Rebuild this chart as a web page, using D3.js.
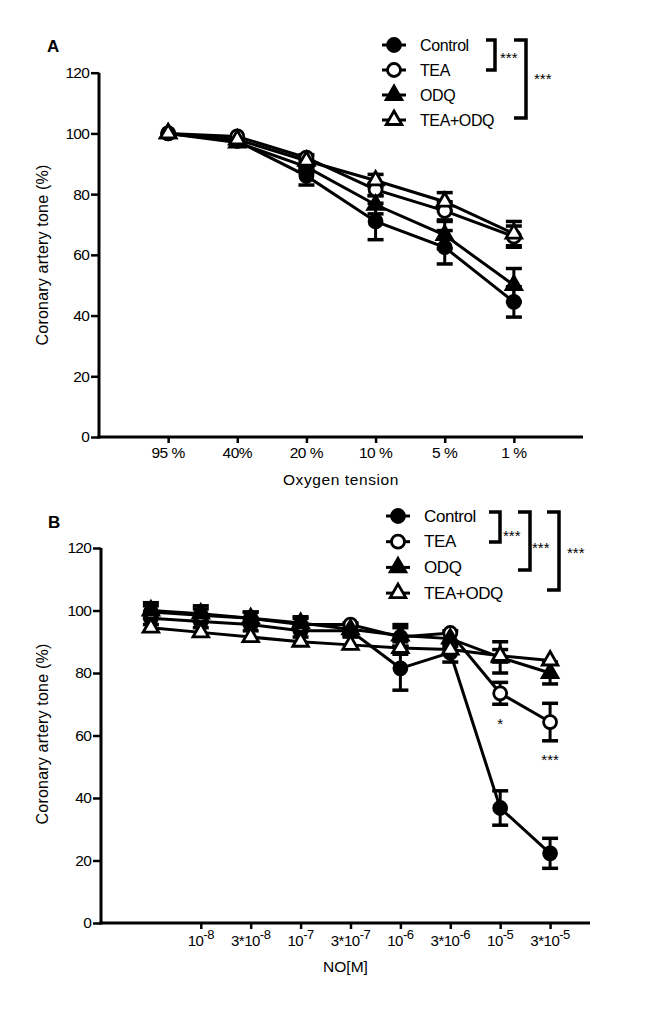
<!DOCTYPE html>
<html><head><meta charset="utf-8">
<script src="https://cdn.jsdelivr.net/npm/d3@7"></script>
<style>body{margin:0;background:#fff}svg{display:block}text{font-family:"Liberation Sans",Arial,sans-serif;fill:#000}</style>
</head><body>
<svg id="c" width="669" height="1010"></svg>
<script>
// ---------- Data: Panel A ----------
const seriesNames = ["Control", "TEA", "ODQ", "TEA+ODQ"];
const oxygenCategories = ["95 %", "40%", "20 %", "10 %", "5 %", "1 %"];
const aControl = [100, 97.5, 86, 71, 62.5, 44.5];
const aControlErr = [1, 1, 3, 6, 5.5, 5];
const aTEA = [100, 99, 92, 81.5, 74.5, 66];
const aTEAErr = [1, 1, 1.5, 2, 3, 3.5];
const aODQ = [100, 97, 89, 76.5, 66.5, 50];
const aODQErr = [1, 1, 2, 3, 4.5, 5.5];
const aTEAODQ = [100, 98, 91, 84.5, 77.5, 67];
const aTEAODQErr = [1, 1, 2, 2, 3, 4];

// ---------- Data: Panel B ----------
const noCategories = ["", "10|-8", "3*10|-8", "10|-7", "3*10|-7", "10|-6", "3*10|-6", "10|-5", "3*10|-5"];
const bControl = [97.5, 96.5, 95.5, 93.5, 93.5, 81.5, 86.5, 36.8, 22.3];
const bControlErr = [2, 2, 2, 2, 2, 7, 3, 5.5, 4.8];
const bTEA = [99.5, 98.5, 97.5, 95.5, 95.5, 91.5, 92.8, 73.5, 64.3];
const bTEAErr = [2, 2, 2, 2, 1.5, 3, 1.5, 3.5, 6];
const bODQ = [100, 99, 97.5, 96, 94, 92, 91, 85, 80];
const bODQErr = [2.5, 2.5, 2, 2, 2, 3.5, 2.5, 5, 3.5];
const bTEAODQ = [94.5, 93, 91.5, 90, 89, 88, 87.5, 85.5, 84];
const bTEAODQErr = [1.5, 1.5, 1.5, 1.5, 1.5, 2, 1.5, 2, 1.5];

const yTicks = [0, 20, 40, 60, 80, 100, 120];

const markerTypes = ["circleFilled", "circleOpen", "triFilled", "triOpen"];

const svg = d3.select("#c");

function drawMarker(g, type, x, y) {
  const filled = type.endsWith("Filled");
  if (type.startsWith("circle")) {
    g.append("circle").attr("cx", x).attr("cy", y).attr("r", 6.5)
      .attr("fill", filled ? "#000" : "#fff").attr("stroke", "#000").attr("stroke-width", 2.8);
  } else {
    g.append("path").attr("d", d3.symbol(d3.symbolTriangle, 105)())
      .attr("transform", `translate(${x},${y})`)
      .attr("fill", filled ? "#000" : "#fff").attr("stroke", "#000").attr("stroke-width", 2.8)
      .attr("stroke-linejoin", "miter");
  }
}

function drawPanel(cfg) {
  const g = svg.append("g");
  const x = d3.scaleLinear().domain(cfg.xDomain).range([cfg.left, cfg.right]);
  const y = d3.scaleLinear().domain([0, 120]).range([cfg.bottom, cfg.top]);

  // axes
  const yAxis = d3.axisLeft(y).tickValues(yTicks).tickSize(8).tickPadding(2);
  const ya = g.append("g").attr("transform", `translate(${cfg.left},0)`).call(yAxis);
  ya.select(".domain").attr("stroke-width", 3).attr("d", `M0,${cfg.top}V${cfg.bottom + 1.5}`);
  ya.selectAll(".tick line").attr("stroke-width", 2.5);
  ya.selectAll(".tick text").attr("font-size", 15.5).style("font-family", '"Liberation Sans",Arial,sans-serif').attr("letter-spacing", -0.8);

  const xa = g.append("g").attr("transform", `translate(0,${cfg.bottom})`)
    .call(d3.axisBottom(x).tickValues(cfg.tickIdx).tickSize(6).tickFormat(() => ""));
  xa.select(".domain").attr("stroke-width", 3).attr("d", `M${cfg.left - 1.5},0H${cfg.right}`);
  xa.selectAll(".tick line").attr("stroke-width", 2.5);

  // tick labels
  cfg.tickIdx.forEach(i => {
    const lab = cfg.categories[i - 1];
    const parts = lab.split("|");
    const t = g.append("text").attr("x", x(i) + (cfg.labelDx || 0)).attr("y", cfg.labelY)
      .attr("text-anchor", "middle").attr("font-size", cfg.tickFont).attr("letter-spacing", -0.5);
    t.append("tspan").text(parts[0]);
    if (parts[1]) t.append("tspan").attr("dy", -7).attr("font-size", cfg.tickFont - 2).text(parts[1]);
  });

  // axis titles
  g.append("text").attr("x", (cfg.left + cfg.right) / 2).attr("y", cfg.xTitleY)
    .attr("text-anchor", "middle").attr("font-size", 15.5).attr("letter-spacing", cfg.xTitleLS || 0).text(cfg.xTitle);
  g.append("text").attr("transform", `translate(${cfg.yTitleX},${cfg.yTitleY}) rotate(-90)`)
    .attr("text-anchor", "middle").attr("font-size", 16).attr("letter-spacing", 0.2).text("Coronary artery tone (%)");

  // panel label
  g.append("text").attr("x", cfg.labelX).attr("y", cfg.labelYp).attr("font-size", 17)
    .attr("font-weight", "bold").text(cfg.panel);

  // lines
  const line = d3.line().x((d, i) => x(i + 1)).y(d => y(d));
  cfg.series.forEach(s => {
    g.append("path").attr("d", line(s.vals)).attr("fill", "none")
      .attr("stroke", "#000").attr("stroke-width", 3);
  });
  // error bars
  cfg.series.forEach(s => {
    s.vals.forEach((v, i) => {
      const e = s.errs[i];
      const cx = x(i + 1);
      g.append("line").attr("x1", cx).attr("x2", cx).attr("y1", y(v - e)).attr("y2", y(v + e))
        .attr("stroke", "#000").attr("stroke-width", 3);
      if (e > 1.6) {
        [v - e, v + e].forEach(ev => {
          g.append("line").attr("x1", cx - 8).attr("x2", cx + 8).attr("y1", y(ev)).attr("y2", y(ev))
            .attr("stroke", "#000").attr("stroke-width", 3.5);
        });
      }
    });
  });
  // markers
  cfg.series.forEach(s => {
    s.vals.forEach((v, i) => drawMarker(g, s.type, x(i + 1), y(v)));
  });

  // legend
  const L = cfg.legend;
  seriesNames.forEach((name, i) => {
    const ly = L.y0 + i * L.dy;
    g.append("line").attr("x1", L.x - 12).attr("x2", L.x + 12).attr("y1", ly).attr("y2", ly)
      .attr("stroke", "#000").attr("stroke-width", 3);
    drawMarker(g, markerTypes[i], L.x, ly);
    g.append("text").attr("x", L.tx).attr("y", ly + 5.5).attr("font-size", L.font)
      .attr("letter-spacing", -0.4).text(name);
  });
  // brackets
  cfg.brackets.forEach(b => {
    g.append("path").attr("d", `M${b.x0},${b.y0}H${b.x1}V${b.y1}H${b.x0}`)
      .attr("fill", "none").attr("stroke", "#000").attr("stroke-width", 3.5);
    g.append("text").attr("x", b.sx).attr("y", b.sy).attr("font-size", 15).text("***");
  });
  (cfg.stars || []).forEach(s => {
    g.append("text").attr("x", x(s.i)).attr("y", s.y).attr("text-anchor", "middle")
      .attr("font-size", 15).text(s.t);
  });
}

drawPanel({
  panel: "A", labelX: 47, labelYp: 52,
  left: 99, right: 583, top: 72.7, bottom: 437, xDomain: [0, 7],
  categories: oxygenCategories, tickIdx: [1, 2, 3, 4, 5, 6], labelY: 458, tickFont: 15.5,
  xTitle: "Oxygen tension", xTitleY: 485, xTitleLS: 0.6,
  yTitleX: 48, yTitleY: 255,
  series: [
    {vals: aControl, errs: aControlErr, type: "circleFilled"},
    {vals: aTEA, errs: aTEAErr, type: "circleOpen"},
    {vals: aODQ, errs: aODQErr, type: "triFilled"},
    {vals: aTEAODQ, errs: aTEAODQErr, type: "triOpen"}
  ],
  legend: {x: 394, tx: 420, y0: 45, dy: 25, font: 16},
  brackets: [
    {x0: 486, x1: 495, y0: 40, y1: 70, sx: 500, sy: 63},
    {x0: 514, x1: 526, y0: 40, y1: 118, sx: 534, sy: 84}
  ]
});

drawPanel({
  panel: "B", labelX: 48, labelYp: 528,
  left: 101, right: 590, top: 548, bottom: 923, xDomain: [0, 9.8],
  categories: noCategories, tickIdx: [2, 3, 4, 5, 6, 7, 8, 9], labelY: 946, tickFont: 15, labelDx: 0,
  xTitle: "NO[M]", xTitleY: 972,
  yTitleX: 48, yTitleY: 734,
  series: [
    {vals: bControl, errs: bControlErr, type: "circleFilled"},
    {vals: bTEA, errs: bTEAErr, type: "circleOpen"},
    {vals: bODQ, errs: bODQErr, type: "triFilled"},
    {vals: bTEAODQ, errs: bTEAODQErr, type: "triOpen"}
  ],
  legend: {x: 398, tx: 424, y0: 516, dy: 25.7, font: 17},
  brackets: [
    {x0: 489, x1: 500, y0: 512, y1: 542, sx: 503, sy: 541},
    {x0: 518, x1: 530, y0: 512, y1: 570, sx: 532, sy: 553},
    {x0: 547, x1: 559, y0: 512, y1: 590, sx: 567, sy: 558}
  ],
  stars: [{i: 8, y: 729, t: "*"}, {i: 9, y: 765, t: "***"}]
});
</script>
</body></html>
